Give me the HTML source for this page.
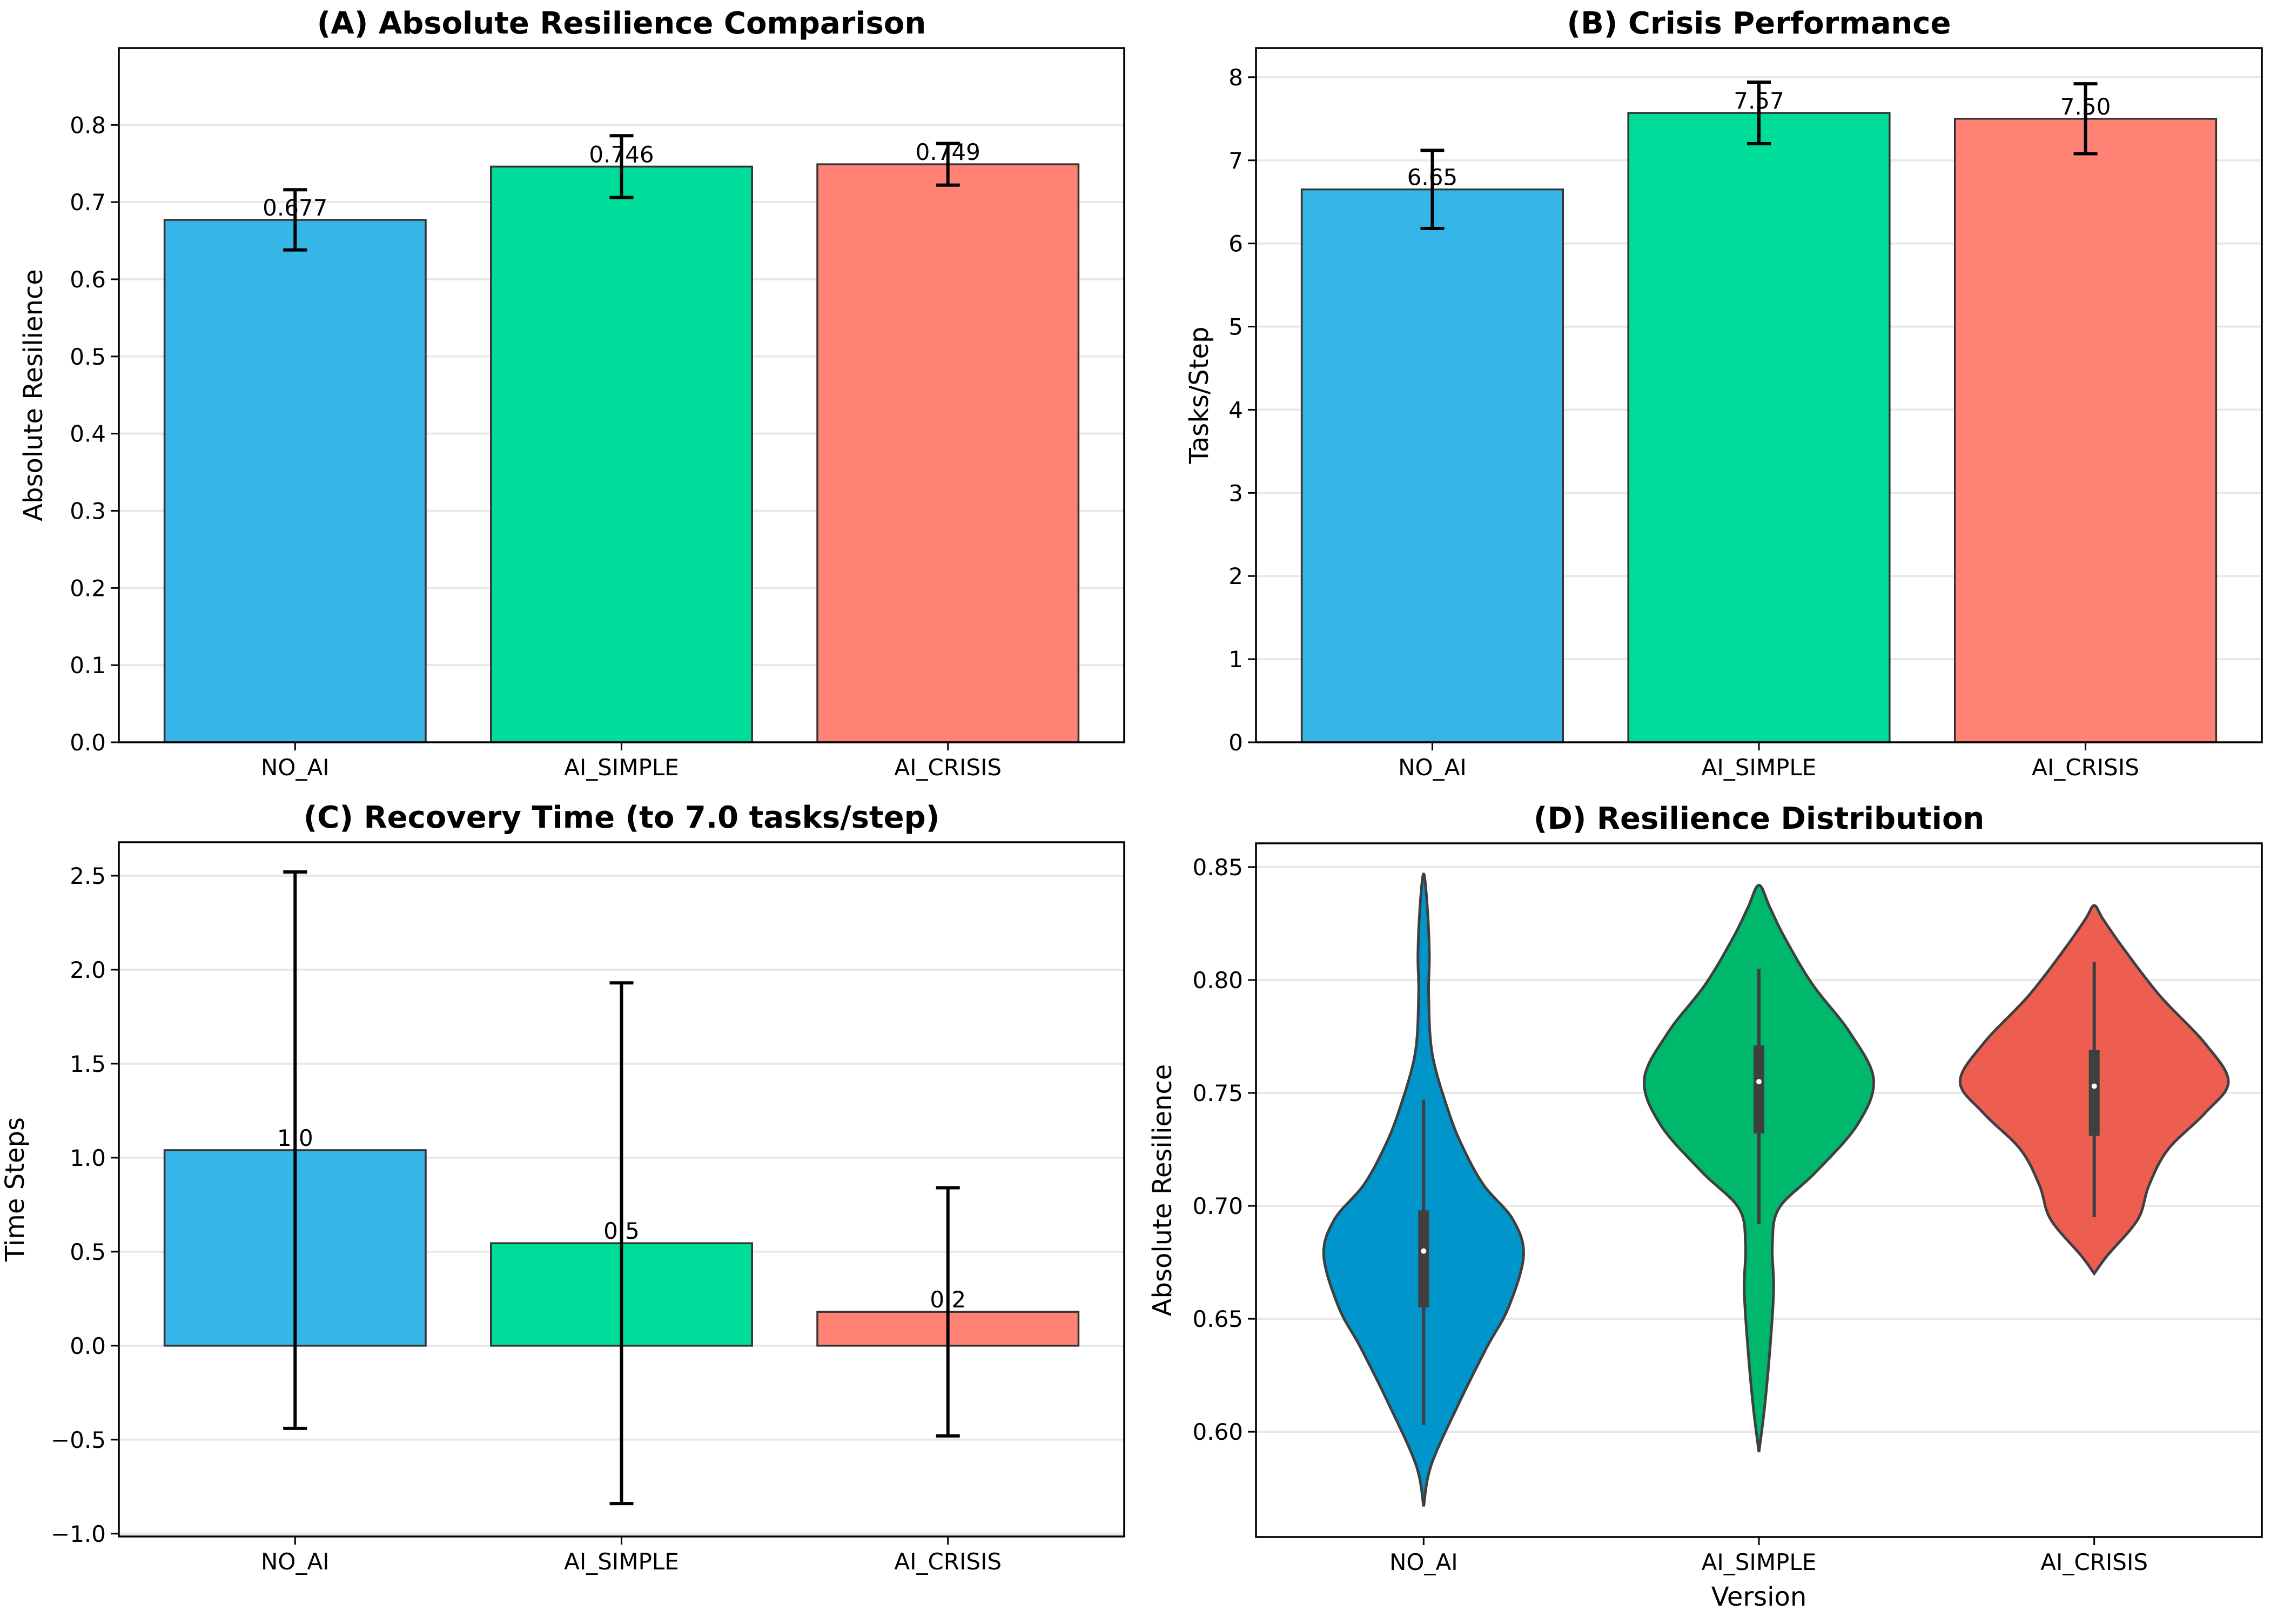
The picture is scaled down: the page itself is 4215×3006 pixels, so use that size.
<!DOCTYPE html>
<html><head><meta charset="utf-8">
<style>
html,body{margin:0;padding:0;background:#fff;}
svg{display:block;font-family:"DejaVu Sans","Liberation Sans",sans-serif;}
</style></head>
<body>
<svg id="fig" width="4215" height="3006" viewBox="0 0 4215 3006" xmlns="http://www.w3.org/2000/svg"></svg>
<script>
const categories = ["NO_AI","AI_SIMPLE","AI_CRISIS"];
const barColors = ["#35b6e6","#00dc9a","#ff8274"];
const violinColors = ["#0096cc","#00b86b","#ee5e50"];

const resilienceMean = [0.677, 0.746, 0.749];
const resilienceErr = [0.039, 0.040, 0.027];
const resilienceLabels = ["0.677","0.746","0.749"];
const resilienceTicks = [0,0.1,0.2,0.3,0.4,0.5,0.6,0.7,0.8];

const crisisMean = [6.65, 7.57, 7.50];
const crisisErr = [0.47, 0.37, 0.42];
const crisisLabels = ["6.65","7.57","7.50"];
const crisisTicks = [0,1,2,3,4,5,6,7,8];

const recoveryMean = [1.04, 0.545, 0.18];
const recoveryErr = [1.48, 1.385, 0.66];
const recoveryLabels = ["1.0","0.5","0.2"];
const recoveryTicks = [-1.0,-0.5,0.0,0.5,1.0,1.5,2.0,2.5];
const recoveryTickLabels = ["\u22121.0","\u22120.5","0.0","0.5","1.0","1.5","2.0","2.5"];

const distTicks = [0.60,0.65,0.70,0.75,0.80,0.85];
// violin profiles: values and half widths (category units)
const noaiVals = [0.567,0.585,0.611,0.637,0.655,0.678,0.694,0.709,0.725,0.741,0.767,0.793,0.811,0.832,0.847];
const noaiHalf = [0,0.022,0.10,0.187,0.253,0.298,0.266,0.18,0.12,0.076,0.026,0.015,0.017,0.011,0];
const simpleVals = [0.591,0.611,0.637,0.663,0.683,0.699,0.715,0.736,0.756,0.777,0.798,0.819,0.832,0.842];
const simpleHalf = [0,0.017,0.033,0.044,0.04,0.06,0.17,0.294,0.342,0.27,0.16,0.076,0.033,0];
const crisisVals = [0.670,0.678,0.694,0.709,0.725,0.741,0.755,0.772,0.793,0.814,0.827,0.833];
const crisisHalf = [0,0.039,0.13,0.163,0.22,0.33,0.40,0.33,0.196,0.087,0.026,0];
const whiskerLow = [0.603,0.692,0.695];
const whiskerHigh = [0.747,0.805,0.808];
const boxLow = [0.655,0.732,0.731];
const boxHigh = [0.698,0.771,0.769];
const medians = [0.680,0.755,0.753];

const NS="http://www.w3.org/2000/svg";
const svg=document.getElementById('fig');
function el(tag,attrs,parent,text){const e=document.createElementNS(NS,tag);for(const k in attrs)e.setAttribute(k,attrs[k]);if(text!==undefined)e.textContent=text;(parent||svg).appendChild(e);return e;}

function makeAxes(name,L,R,T,B,ymin,ymax,xmin,xmax){
  const g=el('g',{});
  
  
  const sy=v=>B-(v-ymin)/(ymax-ymin)*(B-T);
  const sx=v=>L+(v-xmin)/(xmax-xmin)*(R-L);
  return {g,sx,sy,L,R,T,B};
}
function drawFrame(ax,ticks,tickLabels,title,ylabel,ylabelX,xlabel){
  const {g,sx,sy,L,R,T,B}=ax;
  ticks.forEach((t,i)=>{
    const y=sy(t);
    const tk=el('line',{x1:L-15,x2:L,y1:y,y2:y,stroke:'#000','stroke-width':3},g);
    
    
    const tl=el('text',{x:L-24,y:y+15,'text-anchor':'end','font-size':42,fill:'#000'},g,tickLabels[i]);
    
    
  });
  categories.forEach((c,i)=>{
    const x=sx(i);
    el('line',{x1:x,x2:x,y1:B,y2:B+15,stroke:'#000','stroke-width':3},g);
    const tl=el('text',{x:x,y:B+61,'text-anchor':'middle','font-size':42,fill:'#000'},g,c);
    
    
  });
  const fr=el('rect',{x:L,y:T,width:R-L,height:B-T,fill:'none',stroke:'#000','stroke-width':3.5},g);
  
  
  const tt=el('text',{x:(L+R)/2,y:T-27,'text-anchor':'middle','font-size':56,'font-weight':'bold',fill:'#000'},g,title);
  
  
  const cy=(T+B)/2;
  const yl=el('text',{x:ylabelX,y:cy,'text-anchor':'middle','font-size':48,fill:'#000',transform:`rotate(-90 ${ylabelX} ${cy})`},g,ylabel);
  
  
  if(xlabel){
    const xl=el('text',{x:(L+R)/2,y:B+127,'text-anchor':'middle','font-size':48,fill:'#000'},g,xlabel);
    
    
  }
}
function grid(ax,ticks){
  ticks.forEach(t=>{const y=ax.sy(t);
    const gl=el('line',{x1:ax.L,x2:ax.R,y1:y,y2:y,stroke:'#e8e8e8','stroke-width':4},ax.g);
    
    
  });
}
function barPanel(ax,means,errs,labels,ticks,tickLabels,title,ylabel,ylx){
  grid(ax,ticks);
  const y0=ax.sy(0);
  means.forEach((m,i)=>{
    const x0=ax.sx(i-0.4),x1=ax.sx(i+0.4),yt=ax.sy(m);
    const r=el('rect',{x:x0,y:Math.min(yt,y0),width:x1-x0,height:Math.abs(y0-yt),fill:barColors[i],stroke:'#333','stroke-width':3.5},ax.g);
    
    
  });
  means.forEach((m,i)=>{
    const xc=ax.sx(i);
    const lb=el('text',{x:xc,y:ax.sy(m)-8,'text-anchor':'middle','font-size':42,fill:'#000'},ax.g,labels[i]);
    
    
    const ylo=ax.sy(m-errs[i]),yhi=ax.sy(m+errs[i]);
    const eb=el('g',{stroke:'#000','stroke-width':6},ax.g);
    
    
    el('line',{x1:xc,x2:xc,y1:ylo,y2:yhi},eb);
    el('line',{x1:xc-22,x2:xc+22,y1:ylo,y2:ylo},eb);
    el('line',{x1:xc-22,x2:xc+22,y1:yhi,y2:yhi},eb);
  });
  drawFrame(ax,ticks,tickLabels,title,ylabel,ylx);
}
const fmt1=t=>t.toFixed(1);
const axA=makeAxes('panel-a-resilience',220,2081,89,1374,0,0.8996,-0.54,2.54);
barPanel(axA,resilienceMean,resilienceErr,resilienceLabels,resilienceTicks,resilienceTicks.map(fmt1),'(A) Absolute Resilience Comparison','Absolute Resilience',78);
const axB=makeAxes('panel-b-crisis',2325,4187,89,1374,0,8.35,-0.54,2.54);
barPanel(axB,crisisMean,crisisErr,crisisLabels,crisisTicks,crisisTicks.map(String),'(B) Crisis Performance','Tasks/Step',2236);
const axC=makeAxes('panel-c-recovery',220,2081,1559,2844,-1.015,2.678,-0.54,2.54);
barPanel(axC,recoveryMean,recoveryErr,recoveryLabels,recoveryTicks,recoveryTickLabels,'(C) Recovery Time (to 7.0 tasks/step)','Time Steps',44);

// Panel D violins
const axD=makeAxes('panel-d-distribution',2325,4187,1561,2845,0.5534,0.8605,-0.5,2.5);
grid(axD,distTicks);
function smoothPath(pts){
  let d=`M${pts[0][0]},${pts[0][1]}`;
  for(let i=0;i<pts.length-1;i++){
    const p0=pts[Math.max(i-1,0)],p1=pts[i],p2=pts[i+1],p3=pts[Math.min(i+2,pts.length-1)];
    const c1=[p1[0]+(p2[0]-p0[0])/6,p1[1]+(p2[1]-p0[1])/6];
    const c2=[p2[0]-(p3[0]-p1[0])/6,p2[1]-(p3[1]-p1[1])/6];
    d+=` C${c1[0]},${c1[1]} ${c2[0]},${c2[1]} ${p2[0]},${p2[1]}`;
  }
  return d;
}
const profVals=[noaiVals,simpleVals,crisisVals];
const profHalf=[noaiHalf,simpleHalf,crisisHalf];
categories.forEach((c,i)=>{
  const vals=profVals[i],hw=profHalf[i];
  const right=vals.map((v,k)=>[axD.sx(i+hw[k]),axD.sy(v)]);
  const left=vals.map((v,k)=>[axD.sx(i-hw[k]),axD.sy(v)]).reverse();
  const pts=right.concat(left.slice(1));
  const p=el('path',{d:smoothPath(pts)+'Z',fill:violinColors[i],stroke:'#3f3f3f','stroke-width':5},axD.g);
  
  
  const xc=axD.sx(i);
  const bx=el('g',{},axD.g);
  
  
  el('line',{x1:xc,x2:xc,y1:axD.sy(whiskerLow[i]),y2:axD.sy(whiskerHigh[i]),stroke:'#3f3f3f','stroke-width':6},bx);
  el('rect',{x:xc-10,y:axD.sy(boxHigh[i]),width:20,height:axD.sy(boxLow[i])-axD.sy(boxHigh[i]),fill:'#3f3f3f'},bx);
  el('circle',{cx:xc,cy:axD.sy(medians[i]),r:5,fill:'#fff'},bx);
});
drawFrame(axD,distTicks,distTicks.map(t=>t.toFixed(2)),'(D) Resilience Distribution','Absolute Resilience',2168,'Version');
</script>
</body></html>
